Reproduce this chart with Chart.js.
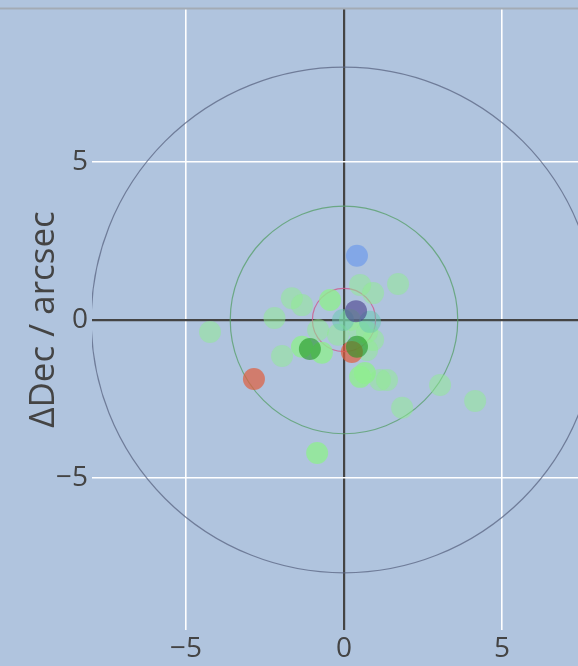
<!DOCTYPE html>
<html>
<head>
<meta charset="utf-8">
<script src="https://cdn.jsdelivr.net/npm/chart.js@4"></script>
<style>
  html, body { margin: 0; padding: 0; background: #b0c4de; }
  #wrap { width: 578px; height: 666px; }
</style>
</head>
<body>
<div id="wrap"><canvas id="offsets" width="578" height="666"></canvas></div>
<script>
// offsets in arcsec: [ΔRA, ΔDec]
var paleGreen = [
  [1.71, 1.14], [0.51, 1.11], [0.92, 0.85], [-1.65, 0.69], [-1.33, 0.47],
  [-2.2, 0.06], [-4.24, -0.38], [-0.82, -0.32], [0.19, 0.0], [-0.19, -0.47],
  [0.92, -0.63], [0.5, -0.38], [0.73, -0.38], [0.73, -0.95], [-1.96, -1.14],
  [1.14, -1.9], [1.36, -1.9], [1.84, -2.78], [3.04, -2.06], [4.15, -2.56]
];
var brightGreen = [
  [-0.44, 0.63], [-1.33, -0.85], [-0.7, -1.04], [0.51, -1.8], [0.66, -1.68], [-0.85, -4.21]
];
var tealPts = [[-0.03, 0.0], [0.82, -0.06]];
var darkGreen = [[-1.08, -0.92], [0.41, -0.85]];
var redPts = [[-2.85, -1.87], [0.25, -1.01]];
var bluePts = [[0.41, 2.03]];
var navyPts = [[0.38, 0.28]];

var ringRadii = [8, 3.6, 1.0];
var ringColors = ['rgba(90,100,130,0.75)', 'rgba(90,160,110,0.8)', 'rgba(205,90,140,0.8)'];
var tickValues = [-5, 0, 5];

function pts(arr) {
  return arr.map(function (p) { return { x: p[0], y: p[1] }; });
}

function series(arr, color) {
  return {
    data: pts(arr),
    backgroundColor: color,
    borderWidth: 0,
    pointRadius: 11,
    pointHoverRadius: 11
  };
}

// reference circles around the origin, plus the thin frame line on top
var rings = {
  id: 'rings',
  beforeDatasetsDraw: function (chart) {
    var c = chart.ctx, xs = chart.scales.x, ys = chart.scales.y;
    var cx = xs.getPixelForValue(0), cy = ys.getPixelForValue(0);
    c.save();
    c.beginPath();
    c.rect(chart.chartArea.left, chart.chartArea.top, chart.chartArea.width, chart.chartArea.height);
    c.clip();
    ringRadii.forEach(function (r, i) {
      var rx = xs.getPixelForValue(r) - cx;
      var ry = cy - ys.getPixelForValue(r);
      c.beginPath();
      c.ellipse(cx, cy, rx, ry, 0, 0, Math.PI * 2);
      c.strokeStyle = ringColors[i];
      c.lineWidth = 1.2;
      c.stroke();
    });
    c.restore();
  },
  afterDraw: function (chart) {
    var c = chart.ctx;
    c.save();
    c.fillStyle = '#a3abb5';
    c.fillRect(0, 7.5, chart.width, 2);
    c.restore();
  }
};

function gridColor(ctx) {
  return ctx.tick && ctx.tick.value === 0 ? '#444' : '#ffffff';
}
function gridWidth(ctx) {
  return ctx.tick && ctx.tick.value === 0 ? 2.2 : 1.6;
}
function fixTicks(scale) {
  scale.ticks = tickValues.map(function (v) { return { value: v }; });
}
function minusSign(v) {
  return String(v).replace('-', '\u2212');
}
function noEdgePadding(s) {
  s.paddingTop = 0;
  s.paddingBottom = 0;
  s.paddingLeft = 0;
  s.paddingRight = 0;
}

var ctx = document.getElementById('offsets');
var offsetChart = new Chart(ctx, {
  type: 'scatter',
  plugins: [rings],
  data: {
    datasets: [
      series(navyPts, 'rgba(72,61,139,0.6)'),
      series(bluePts, 'rgba(100,149,237,0.6)'),
      series(darkGreen, 'rgba(34,150,34,0.6)'),
      series(redPts, 'rgba(224,94,61,0.7)'),
      series(tealPts, 'rgba(102,200,175,0.5)'),
      series(brightGreen, 'rgba(144,238,144,0.8)'),
      series(paleGreen, 'rgba(144,238,144,0.5)')
    ]
  },
  options: {
    responsive: false,
    animation: false,
    events: [],
    layout: { autoPadding: false, padding: { top: 9, right: 0, left: 0, bottom: 0 } },
    plugins: { legend: { display: false }, tooltip: { enabled: false } },
    scales: {
      x: {
        type: 'linear',
        min: -7.975,
        max: 7.405,
        afterBuildTicks: fixTicks,
        afterFit: function (s) { s.height = 36; noEdgePadding(s); },
        border: { display: false },
        grid: { color: gridColor, lineWidth: gridWidth, drawTicks: false },
        ticks: {
          color: '#444',
          padding: 2,
          font: { family: 'Open Sans', size: 28 },
          callback: minusSign
        }
      },
      y: {
        type: 'linear',
        min: -9.81,
        max: 9.84,
        afterBuildTicks: fixTicks,
        afterFit: function (s) { s.width = 92; noEdgePadding(s); },
        border: { display: false },
        grid: { color: gridColor, lineWidth: gridWidth, drawTicks: false },
        ticks: {
          color: '#444',
          padding: 4,
          font: { family: 'Open Sans', size: 28 },
          callback: minusSign
        },
        title: {
          display: true,
          text: '\u0394Dec / arcsec',
          color: '#444',
          font: { family: 'Open Sans', size: 35 },
          padding: { top: 23, bottom: 0 }
        }
      }
    }
  }
});
</script>
</body>
</html>
